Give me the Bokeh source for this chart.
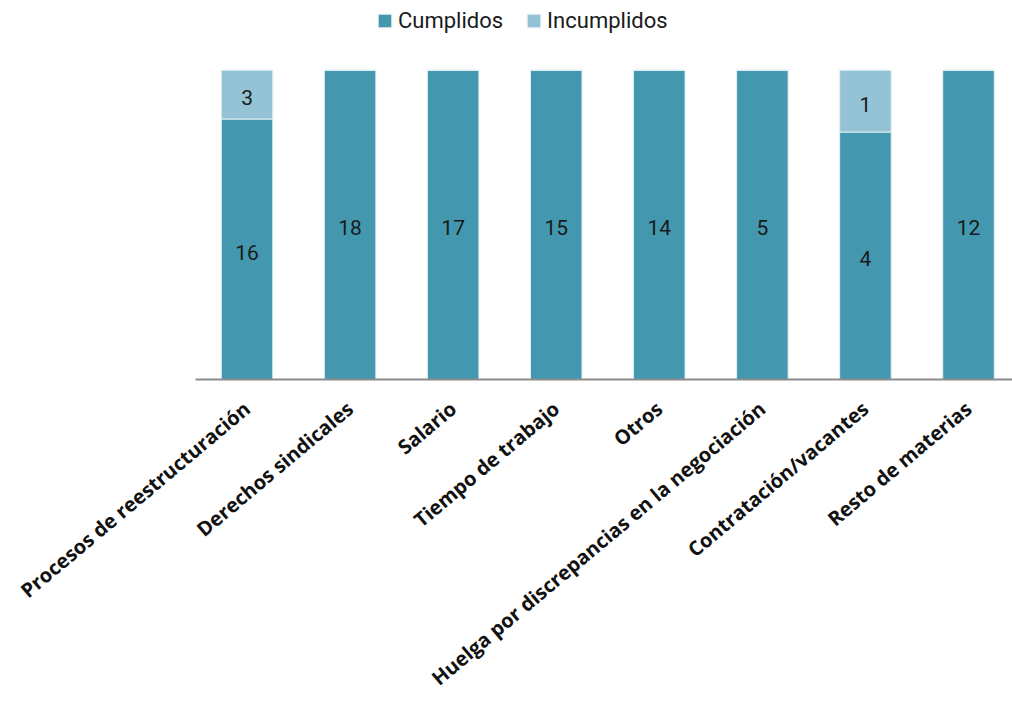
from bokeh.plotting import figure
from bokeh.models import Range1d, FixedTicker, Legend, LegendItem, ColumnDataSource
from bokeh.core.properties import value
from bokeh.embed import file_html
from bokeh.resources import INLINE
import math

categories = ["Procesos de reestructuración", "Derechos sindicales", "Salario", "Tiempo de trabajo",
              "Otros", "Huelga por discrepancias en la negociación", "Contratación/vacantes", "Resto de materias"]
cumplidos = [16, 18, 17, 15, 14, 5, 4, 12]
incumplidos = [3, 0, 0, 0, 0, 0, 1, 0]

C_DARK = "#4398af"
C_LIGHT = "#93c3d4"

xs = list(range(len(categories)))
tot = [a + b for a, b in zip(cumplidos, incumplidos)]
f_c = [a / t for a, t in zip(cumplidos, tot)]

src_c = ColumnDataSource(dict(x=xs, bottom=[0] * len(xs), top=f_c,
                              ymid=[v / 2 for v in f_c], lab=[str(v) for v in cumplidos]))
ix = [i for i in xs if incumplidos[i] > 0]
src_i = ColumnDataSource(dict(x=xs, bottom=f_c, top=[1.0] * len(xs)))
src_il = ColumnDataSource(dict(x=ix, ymid=[(f_c[i] + 1) / 2 for i in ix],
                               lab=[str(incumplidos[i]) for i in ix]))

# frame: top at 2px, bottom at 381px; bars (0..1) from 381 up to 70
FRAME_TOP = 2
p = figure(width=1012, height=704, output_backend="svg", toolbar_location=None,
           x_range=Range1d(-0.5, 7.427), y_range=Range1d(0, (381 - FRAME_TOP) / 311),
           min_border_left=195, min_border_right=0, min_border_top=FRAME_TOP, min_border_bottom=323)
p.outline_line_color = None
p.xgrid.visible = False
p.ygrid.visible = False
p.yaxis.visible = False

r1 = p.vbar(x="x", bottom="bottom", top="top", width=0.5, source=src_c,
            fill_color=C_DARK, line_color="#e4f1f5", line_width=1)
r2 = p.vbar(x="x", bottom="bottom", top="top", width=0.5, source=src_i,
            fill_color=C_LIGHT, line_color="#e4f1f5", line_width=1)

p.text(x="x", y="ymid", text="lab", source=src_c, text_align="center", text_baseline="middle",
       y_offset=3, text_font=value("Roboto"), text_font_size="21px", text_color="#1a1a1a")
p.text(x="x", y="ymid", text="lab", source=src_il, text_align="center", text_baseline="middle",
       y_offset=3, text_font=value("Roboto"), text_font_size="21px", text_color="#1a1a1a")

ax = p.xaxis[0]
ax.ticker = FixedTicker(ticks=xs)
ax.major_label_overrides = {i: c for i, c in enumerate(categories)}
ax.major_label_orientation = math.radians(40)
ax.major_label_text_font = "Open Sans"
ax.major_label_text_font_style = "bold"
ax.major_label_text_font_size = "20px"
ax.major_label_text_color = "#111111"
ax.major_tick_line_color = None
ax.minor_tick_line_color = None
ax.axis_line_color = "#8c8c8c"
ax.axis_line_width = 2
ax.major_label_standoff = 20

legend = Legend(items=[LegendItem(label="Cumplidos", renderers=[r1]),
                       LegendItem(label="Incumplidos", renderers=[r2])],
                orientation="horizontal", location=(181, 346),
                glyph_width=17, glyph_height=17, label_text_font="Roboto",
                label_text_font_size="22px", label_text_color="#1a1a1a",
                spacing=22, label_standoff=5, padding=4, margin=0,
                border_line_color=None, background_fill_alpha=0)
p.add_layout(legend, "center")

open("out.html", "w").write(file_html(p, INLINE))
